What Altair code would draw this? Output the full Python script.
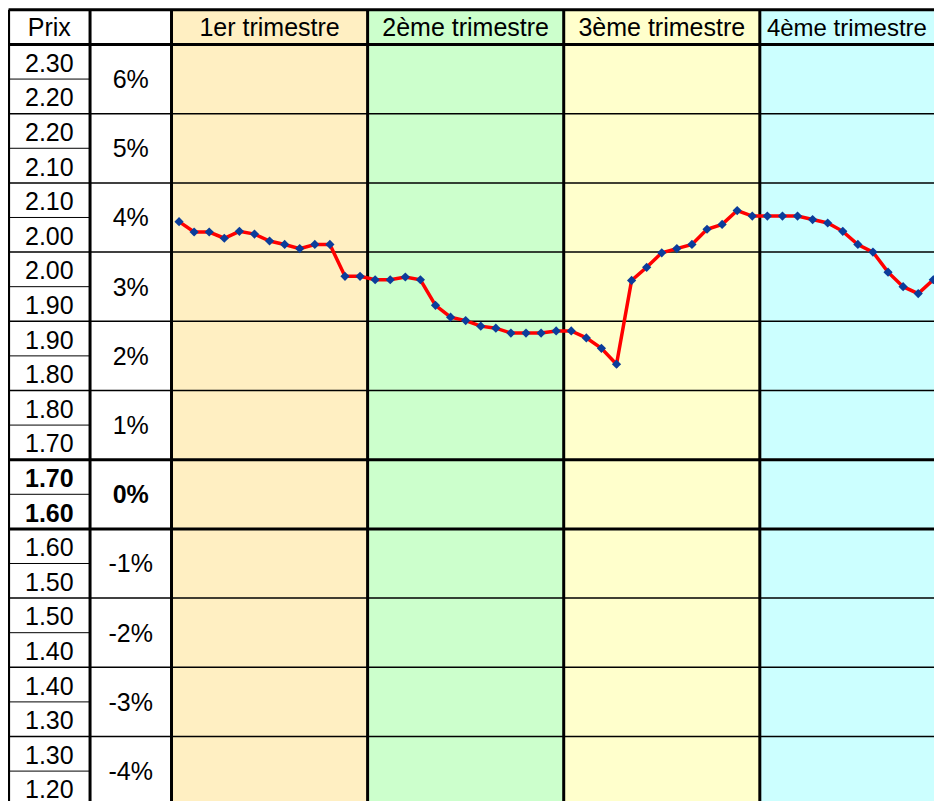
import altair as alt
import pandas as pd

# ---------------- data ----------------
quarters = ["1er trimestre", "2ème trimestre", "3ème trimestre", "4ème trimestre"]
quarter_fill = ["#FFEFC2", "#CCFFCC", "#FFFFCC", "#CCFFFF"]
weeks_per_quarter = 13

band_labels = ["6%", "5%", "4%", "3%", "2%", "1%", "0%", "-1%", "-2%", "-3%", "-4%"]
band_top = [2.30, 2.20, 2.10, 2.00, 1.90, 1.80, 1.70, 1.60, 1.50, 1.40, 1.30]
band_bottom = [2.20, 2.10, 2.00, 1.90, 1.80, 1.70, 1.60, 1.50, 1.40, 1.30, 1.20]
top_price_labels = ["2.30", "2.20", "2.10", "2.00", "1.90", "1.80", "1.70", "1.60", "1.50", "1.40", "1.30"]
bottom_price_labels = ["2.20", "2.10", "2.00", "1.90", "1.80", "1.70", "1.60", "1.50", "1.40", "1.30", "1.20"]
bold_band = "0%"

header_prix = "Prix"

# weekly price (52 weeks)
prices = [
    2.044, 2.029, 2.029, 2.020, 2.030, 2.026, 2.016, 2.011, 2.005, 2.011, 2.011, 1.965, 1.965,
    1.960, 1.960, 1.964, 1.960, 1.923, 1.906, 1.901, 1.893, 1.890, 1.883, 1.883, 1.883, 1.886,
    1.886, 1.876, 1.861, 1.838, 1.959, 1.978, 1.999, 2.005, 2.011, 2.033, 2.040, 2.060, 2.052,
    2.052, 2.052, 2.052, 2.047, 2.042, 2.030, 2.011, 2.000, 1.971, 1.950, 1.940, 1.960, 1.960,
]

# table layout in week units (x) and price units (y)
prix_col = (-10.8, -5.4)
pct_col = (-5.4, 0.0)
header_top = 2.35
table_bottom = 1.20
table_right = 4 * weeks_per_quarter

X_DOMAIN = [-10.839, 50.547]
Y_DOMAIN = [1.2068, 2.3527]
FONT = "Liberation Sans"
FS = 25

xs = alt.Scale(domain=X_DOMAIN, nice=False, zero=False)
ys = alt.Scale(domain=Y_DOMAIN, nice=False, zero=False)

# ---------------- frames ----------------
# header label centres, kept inside the visible area (last column is cut by the page edge)
label_x = []
label_fs = []
for i in range(4):
    c = (i + 0.5) * weeks_per_quarter
    vis_c = (i * weeks_per_quarter + X_DOMAIN[1]) / 2
    if vis_c < c:
        label_x.append(vis_c)
        label_fs.append(FS - 1)
    else:
        label_x.append(c)
        label_fs.append(FS)

q_df = pd.DataFrame({
    "x1": [i * weeks_per_quarter for i in range(4)],
    "x2": [(i + 1) * weeks_per_quarter for i in range(4)],
    "y1": table_bottom,
    "y2": header_top,
    "fill": quarter_fill,
    "label": quarters,
    "xc": label_x,
    "fs": label_fs,
    "yc": (header_top + band_top[0]) / 2,
})

# horizontal rules
h_rows = []
thick_levels = {round(header_top, 2), round(band_top[0], 2), 1.70, 1.60}
for lvl in [header_top] + band_top + [table_bottom]:
    w = 3 if round(lvl, 2) in thick_levels else 1.5
    h_rows.append({"y": lvl, "x1": prix_col[0], "x2": table_right, "w": w})
for t, b in zip(band_top, band_bottom):
    h_rows.append({"y": (t + b) / 2, "x1": prix_col[0], "x2": prix_col[1], "w": 1})
h_df = pd.DataFrame(h_rows)

v_edges = [prix_col[0], prix_col[1], pct_col[1]] + [i * weeks_per_quarter for i in range(1, 5)]
v_df = pd.DataFrame({"x": v_edges, "y1": table_bottom, "y2": header_top, "w": 3})

line_df = pd.DataFrame({"week": [i + 0.5 for i in range(len(prices))], "price": prices})

price_rows = []
pct_rows = []
for lab, t, b, tl, bl in zip(band_labels, band_top, band_bottom, top_price_labels, bottom_price_labels):
    bold = lab == bold_band
    m = (t + b) / 2
    price_rows.append({"x": sum(prix_col) / 2, "y": (t + m) / 2, "text": tl, "bold": bold})
    price_rows.append({"x": sum(prix_col) / 2, "y": (m + b) / 2, "text": bl, "bold": bold})
    pct_rows.append({"x": sum(pct_col) / 2, "y": m, "text": lab, "bold": bold})
price_df = pd.DataFrame(price_rows)
pct_df = pd.DataFrame(pct_rows)
head_df = pd.DataFrame({"x": [sum(prix_col) / 2], "y": [(header_top + band_top[0]) / 2], "text": [header_prix]})

# ---------------- layers ----------------
bg = alt.Chart(q_df).mark_rect().encode(
    x=alt.X("x1:Q", scale=xs, axis=None), x2="x2:Q",
    y=alt.Y("y1:Q", scale=ys, axis=None), y2="y2:Q",
    fill=alt.Fill("fill:N", scale=None),
)

hrules = alt.Chart(h_df).mark_rule(color="black").encode(
    x=alt.X("x1:Q", scale=xs, axis=None), x2="x2:Q",
    y=alt.Y("y:Q", scale=ys, axis=None),
    strokeWidth=alt.StrokeWidth("w:Q", scale=None),
)

vrules = alt.Chart(v_df).mark_rule(color="black").encode(
    x=alt.X("x:Q", scale=xs, axis=None),
    y=alt.Y("y1:Q", scale=ys, axis=None), y2="y2:Q",
    strokeWidth=alt.StrokeWidth("w:Q", scale=None),
)

line = alt.Chart(line_df).mark_line(color="#FF0000", strokeWidth=3.5).encode(
    x=alt.X("week:Q", scale=xs, axis=None),
    y=alt.Y("price:Q", scale=ys, axis=None),
)
pts = alt.Chart(line_df).mark_point(shape="diamond", filled=True, size=85, color="#0B3D9B", opacity=1).encode(
    x=alt.X("week:Q", scale=xs, axis=None),
    y=alt.Y("price:Q", scale=ys, axis=None),
)


def text_layer(df, dy, bold=False, xf="x", yf="y", tf="text"):
    return alt.Chart(df).mark_text(
        font=FONT, fontSize=FS, fontWeight="bold" if bold else "normal",
        align="center", baseline="alphabetic", dy=dy, color="black",
    ).encode(
        x=alt.X(f"{xf}:Q", scale=xs, axis=None),
        y=alt.Y(f"{yf}:Q", scale=ys, axis=None),
        text=f"{tf}:N",
    )


txt_q = alt.Chart(q_df).mark_text(
    font=FONT, align="center", baseline="alphabetic", dy=9, color="black",
).encode(
    x=alt.X("xc:Q", scale=xs, axis=None),
    y=alt.Y("yc:Q", scale=ys, axis=None),
    text="label:N",
    size=alt.Size("fs:Q", scale=None),
)
txt_head = text_layer(head_df, 9)
txt_price = text_layer(price_df[~price_df["bold"]], 10)
txt_price_b = text_layer(price_df[price_df["bold"]], 10, bold=True)
txt_pct = text_layer(pct_df[~pct_df["bold"]], 9)
txt_pct_b = text_layer(pct_df[pct_df["bold"]], 9, bold=True)

chart = alt.layer(
    bg, hrules, vrules, line, pts,
    txt_q, txt_head, txt_price, txt_price_b, txt_pct, txt_pct_b,
).properties(
    width=926, height=793,
    autosize=alt.AutoSizeParams(type="none"),
    padding=0,
).configure_view(strokeWidth=0)

chart.save("out.html", embed_options={"renderer": "svg", "actions": False})
